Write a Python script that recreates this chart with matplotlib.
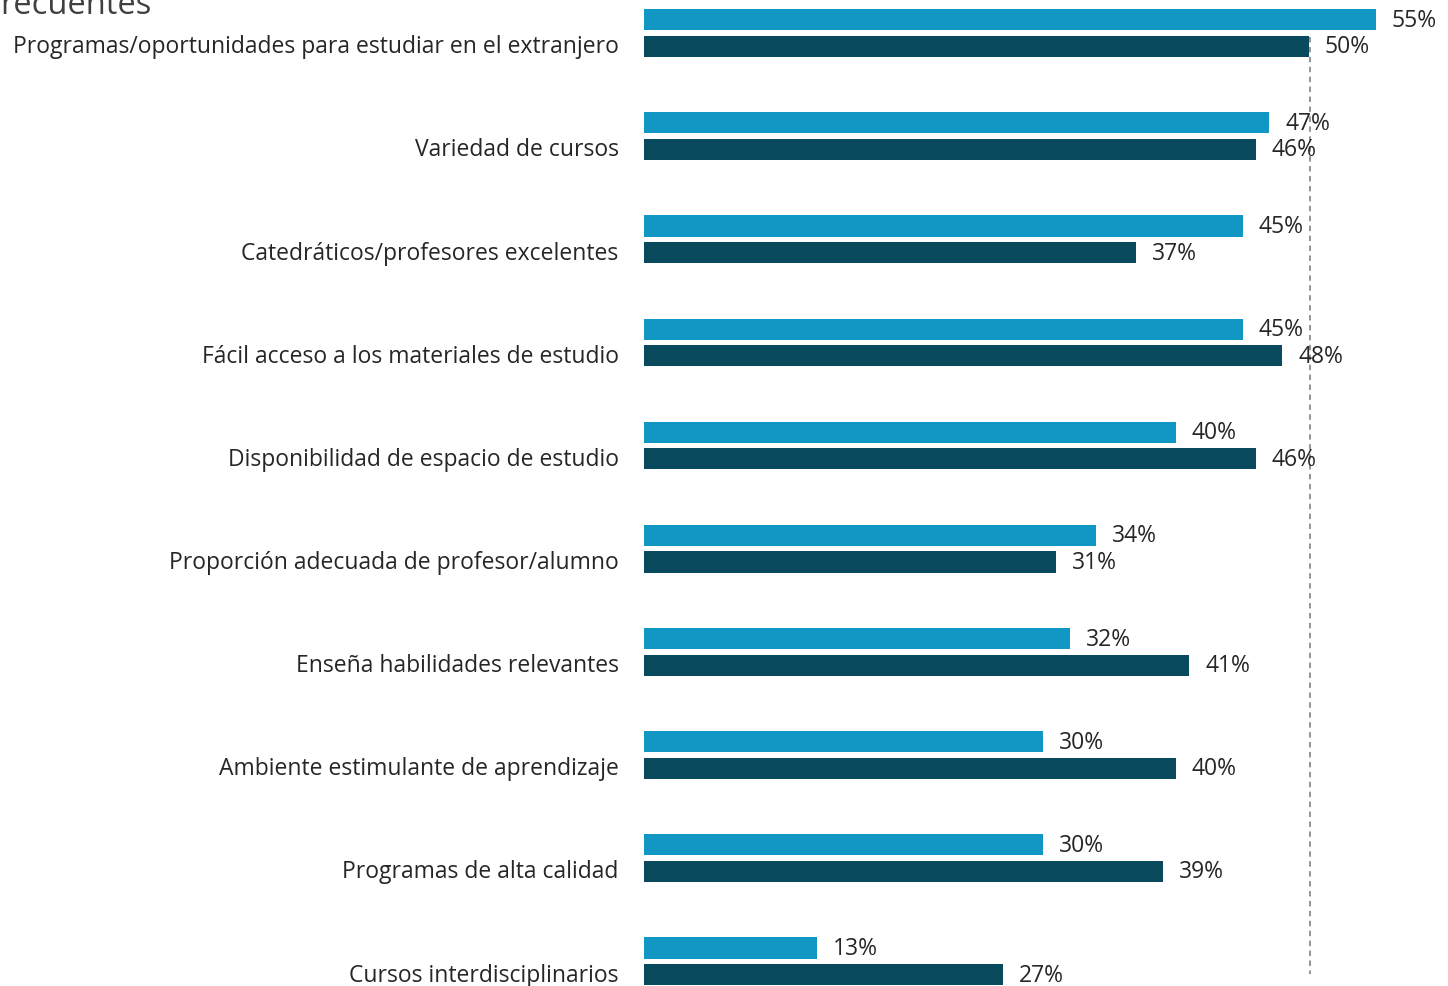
import numpy as np
import matplotlib.pyplot as plt

# Categories and the two series (percent)
categories = [
    "Programas/oportunidades para estudiar en el extranjero",
    "Variedad de cursos",
    "Catedráticos/profesores excelentes",
    "Fácil acceso a los materiales de estudio",
    "Disponibilidad de espacio de estudio",
    "Proporción adecuada de profesor/alumno",
    "Enseña habilidades relevantes",
    "Ambiente estimulante de aprendizaje",
    "Programas de alta calidad",
    "Cursos interdisciplinarios",
]
serie_a = [55, 47, 45, 45, 40, 34, 32, 30, 30, 13]
serie_b = [50, 46, 37, 48, 46, 31, 41, 40, 39, 27]
referencia = 50.1

color_a = "#1197C3"
color_b = "#0A4A5F"
text_color = "#262626"

plt.rcParams['font.family'] = ['Open Sans', 'DejaVu Sans']

fig = plt.figure(figsize=(14.48, 9.87), dpi=100)
ax = fig.add_axes([644 / 1448, 0, 1 - 644 / 1448, 1])

y = np.arange(len(categories))
off = 0.1285
h = 0.205

ax.barh(y - off, serie_a, height=h, color=color_a)
ax.barh(y + off, serie_b, height=h, color=color_b)

for i in range(len(categories)):
    ax.text(serie_a[i] + 1.2, y[i] - off, f"{serie_a[i]}%", va='center', ha='left',
            fontsize=16.5, color=text_color)
    ax.text(serie_b[i] + 1.2, y[i] + off, f"{serie_b[i]}%", va='center', ha='left',
            fontsize=16.5, color=text_color)
    ax.text(-1.9, y[i] + off, categories[i], va='center', ha='right',
            fontsize=16.5, color=text_color, clip_on=False)

# dashed reference line
ax.plot([referencia, referencia], [0.04, 9.12], color="#8c8c8c", linestyle=(0, (3, 2.5)),
        linewidth=1.3)

ax.set_xlim(0, 804 / 13.3)
ax.set_ylim(len(categories) - 1 + 0.24, -0.33)
ax.axis('off')

fig.text(0.0, 1 - 14 / 987, "recuentes", ha='left', va='baseline', fontsize=23.5,
         color="#404040")

fig.savefig("out.png", dpi=100)
